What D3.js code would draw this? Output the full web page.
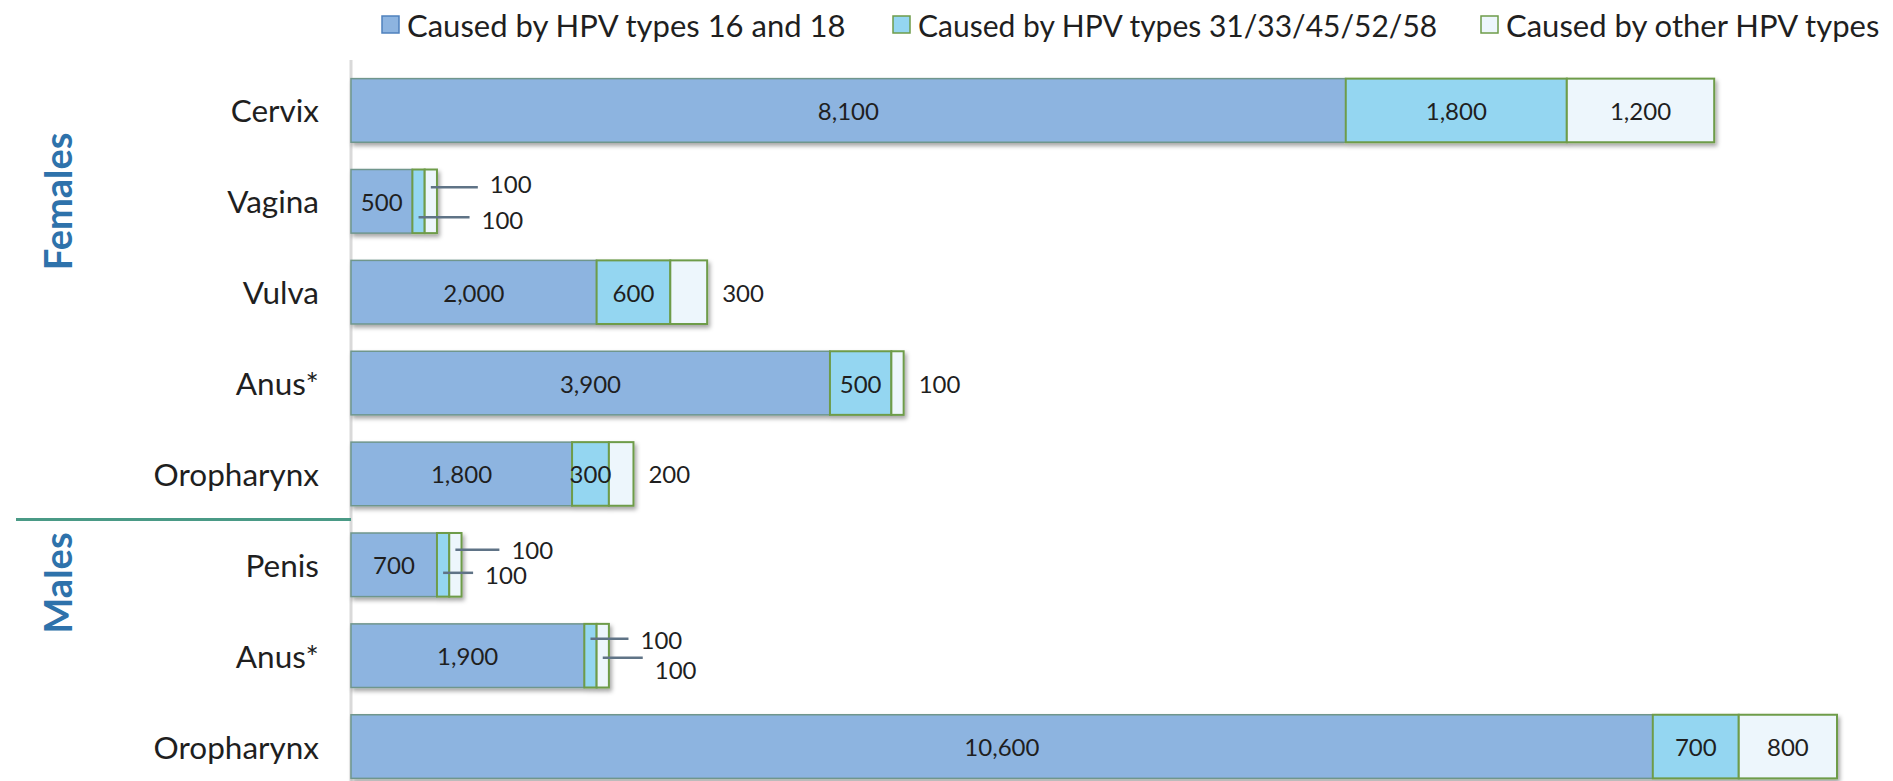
<!DOCTYPE html>
<html lang="en">
<head>
<meta charset="utf-8">
<script src="https://d3js.org/d3.v7.min.js"></script>
<style>
  body { margin: 0; background: #fff; font-family: 'Lato', sans-serif; }
  text { fill: #1f1f1f; }
</style>
</head>
<body>
<div id="chart"></div>
<script type="text/javascript">

var width = 1893,
    height = 781;

// ---------- data ----------
var categories = ["Cervix", "Vagina", "Vulva", "Anus*", "Oropharynx", "Penis", "Anus*", "Oropharynx"];
var sexes = ["Females", "Males"];
var seriesNames = ["Caused by HPV types 16 and 18", "Caused by HPV types 31/33/45/52/58", "Caused by other HPV types"];
var hpv1618 = [8100, 500, 2000, 3900, 1800, 700, 1900, 10600];
var hpv5types = [1800, 100, 600, 500, 300, 100, 100, 700];
var hpvOther = [1200, 100, 300, 100, 200, 100, 100, 800];

var fills = ["#8db4e0", "#94d6f1", "#edf6fc"];
var strokes = ["#6f968c", "#6e9c4a", "#6e9c4a"];

// labels that do not sit inside their segment
var outside = [ {row: 2, s: 2}, {row: 3, s: 2}, {row: 4, s: 2} ];
var callouts = [
  {row: 1, s: 2, dy: -14, len: 47, ldy: -18},
  {row: 1, s: 1, dy: 16, len: 51, ldy: 18},
  {row: 5, s: 2, dy: -15, len: 44, ldy: -15},
  {row: 5, s: 1, dy: 8, len: 30, ldy: 10},
  {row: 6, s: 1, dy: -17, len: 38, ldy: -16},
  {row: 6, s: 2, dy: 2, len: 40, ldy: 14}
];
var legendX = [382, 893, 1481];

var table = categories.map(function(c, i) {
  return {row: i, name: c, a: hpv1618[i], b: hpv5types[i], c: hpvOther[i]};
});
var stack = d3.stack().keys(["a", "b", "c"])(table);
var totals = table.map(function(d) { return d.a + d.b + d.c; });

// ---------- scales ----------
var x = d3.scaleLinear().domain([0, d3.max(totals)]).range([351, 1837]);
var y = d3.scaleBand().domain(d3.range(categories.length))
  .range([65, 792]).paddingInner(0.3).paddingOuter(0.15);

var svg = d3.select("#chart").append("svg")
  .attr("width", width).attr("height", height);

var defs = svg.append("defs");
var f = defs.append("filter").attr("id", "shadow")
  .attr("x", "-5%").attr("y", "-20%").attr("width", "115%").attr("height", "150%");
f.append("feDropShadow").attr("dx", 2).attr("dy", 3).attr("stdDeviation", 2)
  .attr("flood-color", "#000").attr("flood-opacity", 0.35);

// axis line
svg.append("line")
  .attr("x1", x(0)).attr("x2", x(0))
  .attr("y1", 60).attr("y2", height)
  .attr("stroke", "#d9d9d9").attr("stroke-width", 3);

// divider between sexes
var divY = (y(4) + y.bandwidth() + y(5)) / 2;
svg.append("line")
  .attr("x1", 16).attr("x2", x(0))
  .attr("y1", divY).attr("y2", divY)
  .attr("stroke", "#4a9a86").attr("stroke-width", 3);

// ---------- bars ----------
svg.selectAll("g.row")
  .data(d3.range(categories.length))
  .enter().append("g").attr("class", "row")
  .attr("filter", "url(#shadow)");

stack.forEach(function(layer, s) {
  svg.selectAll("g.row").each(function(r) {
    var d = layer[r];
    d3.select(this).append("rect")
      .attr("x", x(d[0]))
      .attr("y", y(r))
      .attr("width", x(d[1]) - x(d[0]))
      .attr("height", y.bandwidth())
      .attr("fill", fills[s])
      .attr("stroke", strokes[s])
      .attr("stroke-width", s === 0 ? 1.5 : 2);
  });
});

// ---------- value labels ----------
var fmt = d3.format(",");
function isOutside(r, s) { return outside.some(function(o) { return o.row === r && o.s === s; }); }
function callout(r, s) { return callouts.filter(function(o) { return o.row === r && o.s === s; })[0]; }

var labelG = svg.append("g").attr("font-size", 24);
stack.forEach(function(layer, s) {
  layer.forEach(function(d, r) {
    var v = d[1] - d[0];
    var cy = y(r) + y.bandwidth() / 2;
    var cx = (x(d[0]) + x(d[1])) / 2;
    var co = callout(r, s);
    if (co) {
      labelG.append("line")
        .attr("x1", cx).attr("x2", cx + co.len)
        .attr("y1", cy + co.dy).attr("y2", cy + co.dy)
        .attr("stroke", "#5f7386").attr("stroke-width", 2.5);
      labelG.append("text")
        .attr("x", cx + co.len + 12).attr("y", cy + co.ldy)
        .attr("dominant-baseline", "central")
        .text(fmt(v));
    } else if (isOutside(r, s)) {
      labelG.append("text")
        .attr("x", x(d[1]) + 15).attr("y", cy)
        .attr("dominant-baseline", "central")
        .text(fmt(v));
    } else {
      labelG.append("text")
        .attr("x", cx).attr("y", cy)
        .attr("text-anchor", "middle")
        .attr("dominant-baseline", "central")
        .text(fmt(v));
    }
  });
});

// ---------- category labels ----------
svg.append("g").selectAll("text")
  .data(categories)
  .enter().append("text")
  .attr("x", 319)
  .attr("y", function(d, i) { return y(i) + y.bandwidth() / 2; })
  .attr("text-anchor", "end")
  .attr("dominant-baseline", "central")
  .attr("font-size", 31.5)
  .text(function(d) { return d; });

// sex labels
var sexY = [y(1) + y.bandwidth() / 2, y(5) + y.bandwidth() / 2 + 0.2 * y.step()];
svg.append("g").selectAll("text")
  .data(sexes)
  .enter().append("text")
  .attr("transform", function(d, i) { return "translate(57," + sexY[i] + ") rotate(-90)"; })
  .attr("text-anchor", "middle")
  .attr("dominant-baseline", "central")
  .attr("font-size", 38)
  .attr("font-weight", 700)
  .style("fill", "#2e72ab")
  .text(function(d) { return d; });

// ---------- legend ----------
var legend = svg.append("g").attr("class", "legend");
seriesNames.forEach(function(name, s) {
  var g = legend.append("g").attr("transform", "translate(" + legendX[s] + ",0)");
  g.append("rect")
    .attr("x", 0).attr("y", 16).attr("width", 17).attr("height", 17)
    .attr("fill", fills[s])
    .attr("stroke", s === 0 ? "#4f81bd" : strokes[s])
    .attr("stroke-width", 1.5);
  g.append("text")
    .attr("x", 25).attr("y", 25)
    .attr("dominant-baseline", "central")
    .attr("font-size", s === 1 ? 30 : 31)
    .text(name);
});

</script>
</body>
</html>
